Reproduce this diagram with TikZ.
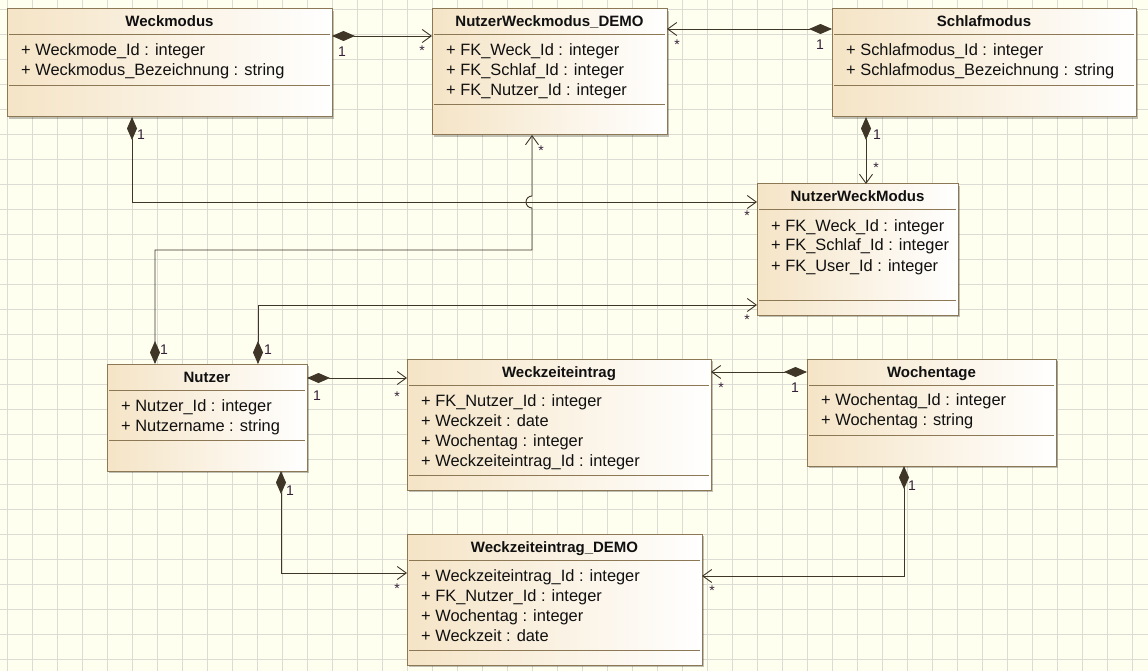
\documentclass[tikz,border=0pt]{standalone}
\usepackage{fontspec}
\setmainfont{Liberation Sans}
\usetikzlibrary{shadows,arrows.meta}

\definecolor{canvas}{RGB}{255,255,240}
\definecolor{gridline}{RGB}{220,220,212}
\definecolor{boxedge}{RGB}{140,120,84}
\definecolor{boxtan}{RGB}{245,228,198}
\definecolor{wire}{RGB}{64,54,40}
\definecolor{multi}{RGB}{52,32,56}
\definecolor{ink}{RGB}{16,16,16}

\tikzset{
  classbox/.style={draw=boxedge, line width=1pt, inner sep=0pt, outer sep=0pt,
    left color=boxtan, right color=white,
    drop shadow={shadow xshift=2pt, shadow yshift=-2pt, fill=black, opacity=0.25}},
  classrule/.style={draw=boxedge, line width=1pt},
  classtitle/.style={inner sep=0pt, anchor=base, text=ink,
    font=\fontsize{15}{18}\selectfont\bfseries},
  attr/.style={inner sep=0pt, anchor=base west, text=ink,
    font=\fontsize{16.4}{20}\selectfont},
  mult/.style={inner sep=0pt, anchor=base, text=multi,
    font=\fontsize{14}{16}\selectfont},
  comp/.style={draw=wire, line width=0.95pt,
    {Diamond[length=23pt,width=10pt,fill=wire]}-{Straight Barb[length=9pt,width=13pt,line width=0.9pt]}},
}

% #1 name, #2 left, #3 top, #4 right, #5 bottom, #6 title rule, #7 attribute rule, #8 title
\newcommand\umlclass[8]{%
  \node[classbox, anchor=north west,
        minimum width={(#4-#2)*1pt}, minimum height={(#5-#3)*1pt}] (#1) at (#2,#3) {};
  \draw[classrule] (#2+2,#6) -- (#4-2,#6);
  \draw[classrule] (#2+2,#7) -- (#4-2,#7);
  \node[classtitle] (#1-title) at ({(#2+#4)/2},#3+18) {#8};
}

\begin{document}
\begin{tikzpicture}[x=1pt,y=-1pt]
  \fill[canvas] (0,0) rectangle (1148,671);
  \useasboundingbox (0,0) rectangle (1148,671);
  \foreach \gx in {7,32,...,1148} \draw[gridline, line width=0.9pt] (\gx,0) -- (\gx,671);
  \foreach \gy in {9,34,...,671} \draw[gridline, line width=0.9pt] (0,\gy) -- (1148,\gy);

  % classes
  \umlclass{wm}{7}{9}{332}{117}{35}{86}{Weckmodus}
  \node[attr] (wm-a1) at (21,56) {+ Weckmode\_Id : integer};
  \node[attr] (wm-a2) at (21,76) {+ Weckmodus\_Bezeichnung : string};

  \umlclass{demo}{432}{9}{667}{135}{35}{105}{NutzerWeckmodus\_DEMO}
  \node[attr] (demo-a1) at (446,56) {+ FK\_Weck\_Id : integer};
  \node[attr] (demo-a2) at (446,76) {+ FK\_Schlaf\_Id : integer};
  \node[attr] (demo-a3) at (446,96) {+ FK\_Nutzer\_Id : integer};

  \umlclass{sm}{832}{9}{1136}{117}{35}{86}{Schlafmodus}
  \node[attr] (sm-a1) at (846,56) {+ Schlafmodus\_Id : integer};
  \node[attr] (sm-a2) at (846,76) {+ Schlafmodus\_Bezeichnung : string};

  \umlclass{nwm}{757}{184}{958}{315}{210}{300}{NutzerWeckModus}
  \node[attr] (nwm-a1) at (771,231) {+ FK\_Weck\_Id : integer};
  \node[attr] (nwm-a2) at (771,251) {+ FK\_Schlaf\_Id : integer};
  \node[attr] (nwm-a3) at (771,271) {+ FK\_User\_Id : integer};

  \umlclass{nu}{107}{364}{307}{471}{390}{440}{Nutzer}
  \node[attr] (nu-a1) at (121,411) {+ Nutzer\_Id : integer};
  \node[attr] (nu-a2) at (121,431) {+ Nutzername : string};

  \umlclass{wz}{407}{359}{711}{490}{385}{475}{Weckzeiteintrag}
  \node[attr] (wz-a1) at (421,406) {+ FK\_Nutzer\_Id : integer};
  \node[attr] (wz-a2) at (421,426) {+ Weckzeit : date};
  \node[attr] (wz-a3) at (421,446) {+ Wochentag : integer};
  \node[attr] (wz-a4) at (421,466) {+ Weckzeiteintrag\_Id : integer};

  \umlclass{wt}{807}{359}{1056}{466}{385}{435}{Wochentage}
  \node[attr] (wt-a1) at (821,405) {+ Wochentag\_Id : integer};
  \node[attr] (wt-a2) at (821,425) {+ Wochentag : string};

  \umlclass{wzd}{407}{534}{702}{665}{560}{650}{Weckzeiteintrag\_DEMO}
  \node[attr] (wzd-a1) at (421,581) {+ Weckzeiteintrag\_Id : integer};
  \node[attr] (wzd-a2) at (421,601) {+ FK\_Nutzer\_Id : integer};
  \node[attr] (wzd-a3) at (421,621) {+ Wochentag : integer};
  \node[attr] (wzd-a4) at (421,641) {+ Weckzeit : date};

  % compositions
  \draw[comp] (wm.east |- 0,36) -- (demo.west |- 0,36);
  \draw[comp] (sm.west |- 0,29) -- (demo.east |- 0,29);
  \draw[comp] (sm.south -| 866,0) -- (nwm.north -| 866,0);
  \draw[comp] (wm.south -| 132,0) -- (132,202) -- (nwm.west |- 0,202);
  \draw[comp] (nu.north -| 155,0) -- (155,250) -- (532,250) -- (532,208)
     arc[start angle=90, end angle=270, radius=6] -- (demo.south -| 532,0);
  \draw[comp] (nu.north -| 258,0) -- (258,305) -- (nwm.west |- 0,305);
  \draw[comp] (nu.east |- 0,378) -- (wz.west |- 0,378);
  \draw[comp] (wt.west |- 0,372) -- (wz.east |- 0,372);
  \draw[comp] (nu.south -| 281,0) -- (281,573) -- (wzd.west |- 0,573);
  \draw[comp] (wt.south -| 904,0) -- (904,576) -- (wzd.east |- 0,576);

  % multiplicities
  \node[mult] (m1a) at (342,57) {1};   \node[mult] (m1b) at (422,56) {*};
  \node[mult] (m2a) at (820,50) {1};   \node[mult] (m2b) at (677,50) {*};
  \node[mult] (m3a) at (877,140) {1};  \node[mult] (m3b) at (876,173) {*};
  \node[mult] (m4a) at (141,140) {1};  \node[mult] (m4b) at (747,220) {*};
  \node[mult] (m5a) at (164,354) {1};  \node[mult] (m5b) at (541,156) {*};
  \node[mult] (m6a) at (268,354) {1};  \node[mult] (m6b) at (747,324) {*};
  \node[mult] (m7a) at (317,400) {1};  \node[mult] (m7b) at (397,401) {*};
  \node[mult] (m8a) at (795,392) {1};  \node[mult] (m8b) at (721,392) {*};
  \node[mult] (m9a) at (290,495) {1};  \node[mult] (m9b) at (397,593) {*};
  \node[mult] (m10a) at (912,490) {1}; \node[mult] (m10b) at (712,595) {*};
\end{tikzpicture}
\end{document}
